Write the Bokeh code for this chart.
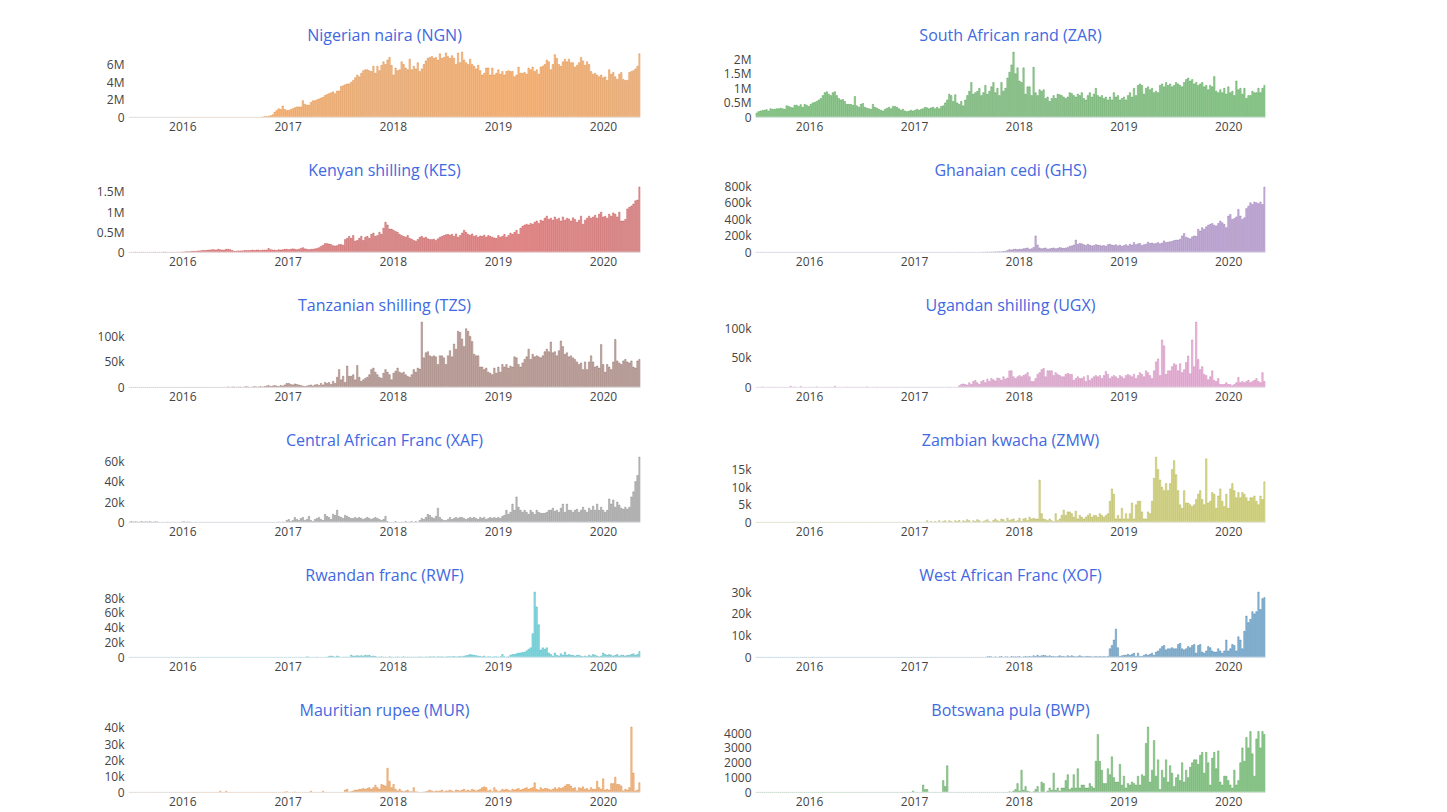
import datetime as dt
from bokeh.plotting import figure
from bokeh.models import Range1d, FixedTicker, Span, DatetimeTickFormatter
from bokeh.layouts import column, row
from bokeh.embed import file_html
from bokeh.resources import INLINE

# ---------------- data (weekly values, first week 2015-06-30) ----------------
# Nigerian naira, millions
ngn = [
    0,0,0,0,0,0,0,0,0,0, 0,0,0,0,0,0,0,0,0,0, 0,0,0,0,0,0,
    0,0,0,0,0,0,0,0,0,0, 0,0,0,0,0,0,0,0,0,0, 0,0,0,0,0,0,0,0,0,0, 0,0,0,0,0,0,0,0,0,0,
    0.05,0.1,0.1,0.15,0.2,0.3,0.6,0.8,1.0,0.9,1.3,0.9,
    0.8,0.8,0.9,1.0,1.1, 1.2,1.2,1.2,1.9,1.5, 1.4,1.4,1.7,1.9,1.9, 2.0,2.1,2.2,2.3,2.5,
    2.6,2.7,2.8,2.9,2.7, 3.0,3.0,3.5,3.6,3.7, 3.8,3.8,4.0,4.2,4.5, 4.8,4.6,5.0,5.3,5.4,
    5.4,5.3,5.2,5.8,5.0, 5.8,5.3,5.9,6.3,6.0, 6.5,6.8,
    5.9,4.8,5.6,5.3,5.4, 6.3,6.0,5.6,5.4,6.6, 5.4,5.8,5.5,6.2,5.2, 5.5,6.0,6.4,6.7,6.8,
    6.9,6.7,6.8,6.5,7.2, 6.7,6.8,7.3,6.9,6.7, 7.0,6.7,6.0,7.3,6.2, 7.4,6.5,6.2,6.0,6.6,
    6.0,5.8,5.5,5.9,5.3, 4.8,5.0,5.6,5.6,4.8, 5.6,4.8,
    5.0,5.4,4.9, 5.2,4.8,5.2,5.3,5.2, 5.2,4.6,4.8,5.7,5.0, 5.0,5.1,4.9,5.6,5.4,
    5.7,5.2,5.4,4.9,5.7, 5.8,6.0,6.5,6.3,5.4, 6.0,7.1,6.7,6.0,5.8, 6.3,6.6,6.3,6.6,6.2,
    6.2,5.7,5.9,6.2,6.8, 6.4,5.9,6.3,6.0,5.2, 4.9,5.0,4.8,4.6,4.8,
    4.5,4.6,4.2,5.4,4.9, 5.1,4.6,4.3,4.9,5.1, 4.3,4.2,4.2,5.1,5.2, 5.3,5.5,5.8,7.2,
]
# South African rand, millions
zar = [
    0.15,0.2,0.22,0.24,0.25, 0.27,0.22,0.3,0.28,0.28, 0.3,0.3,0.32,0.3,0.28, 0.4,0.38,0.35,0.33,0.42,
    0.42,0.38,0.44,0.35,0.45, 0.42,
    0.38,0.45,0.5,0.52,0.55, 0.6,0.65,0.75,0.85,0.88, 0.8,0.75,0.85,0.88,0.75, 0.65,0.6,0.62,0.55,0.45,
    0.45,0.45,0.42,0.72,0.4, 0.35,0.45,0.48,0.35,0.32, 0.3,0.28,0.45,0.35,0.32, 0.28,0.25,0.22,0.28,0.32,
    0.35,0.3,0.38,0.38,0.35, 0.3,0.25,0.28,0.22,0.2,0.22,0.25,
    0.22,0.25,0.28,0.25,0.28, 0.3,0.35,0.33,0.3,0.33, 0.35,0.3,0.35,0.3,0.38, 0.4,0.5,0.6,0.8,0.75,
    0.55,0.78,0.5,0.45,0.55, 0.4,0.6,0.75,0.9,1.2, 0.8,0.85,0.9,1.0,0.75, 0.85,1.1,0.8,0.9,1.05,
    1.2,0.85,1.0,0.75,1.2, 0.9,1.0,1.35,1.55,1.8, 2.24,1.5,
    1.7,1.25,1.2,1.7,0.8, 1.05,1.05,0.75,1.72,0.85, 0.75,0.95,0.9,0.95,0.65, 0.7,0.55,0.65,0.75,0.65,
    0.8,0.78,0.75,0.7,0.65, 0.7,0.85,0.82,0.75,0.7, 0.8,0.75,0.85,0.65,0.6, 0.75,0.85,0.7,0.8,1.0,
    0.75,0.7,0.75,0.65,0.7, 0.6,0.7,0.6,0.85,0.7, 0.75,0.6,
    0.65,0.7,0.6, 0.75,0.85,0.7,1.0,0.75, 1.1,1.15,1.1,0.8,1.0, 1.05,0.95,1.0,0.85,0.9,
    0.85,1.1,1.15,1.05,1.2, 1.1,1.15,1.05,1.1,1.2, 1.15,1.1,1.05,1.2,1.3, 1.35,1.25,1.3,1.15,1.2,
    1.1,1.15,1.2,1.05,1.1, 0.95,1.1,1.05,1.4,0.9, 0.85,0.95,0.85,1.0,0.8,
    1.05,0.85,0.9,0.75,1.25, 0.95,1.0,0.8,1.0,0.65, 0.75,0.75,0.9,0.85,0.85, 1.0,0.85,1.0,1.1,
]
# Kenyan shilling, millions
kes = [
    0,0,0,0.005,0,0,0.005,0,0,0, 0,0,0.005,0,0,0,0,0.01,0.005,0, 0,0.005,0,0,0.005,0,
    0.01,0.01,0.02,0.02,0.02,0.03,0.03,0.03,0.04,0.04, 0.05,0.05,0.05,0.06,0.06,0.07,0.07,0.06,0.08,0.07,
    0.06,0.06,0.08,0.08,0.07,0.05,0.03,0.03,0.04,0.04, 0.04,0.05,0.05,0.05,0.05,0.06,0.05,0.06,0.06,0.05,
    0.06,0.06,0.06,0.1,0.07,0.06,0.06,0.05,0.07,0.06,0.07,0.08,
    0.08,0.07,0.08,0.09,0.08, 0.07,0.08,0.1,0.12,0.09, 0.08,0.07,0.08,0.08,0.09, 0.1,0.12,0.15,0.18,0.22,
    0.22,0.21,0.2,0.17,0.16, 0.17,0.2,0.2,0.18,0.32, 0.35,0.4,0.35,0.42,0.28, 0.3,0.35,0.4,0.3,0.38,
    0.4,0.35,0.45,0.48,0.4, 0.42,0.5,0.45,0.6,0.75, 0.68,0.58,
    0.58,0.55,0.52,0.5,0.45, 0.42,0.4,0.38,0.42,0.35, 0.33,0.3,0.28,0.32,0.38, 0.4,0.36,0.38,0.34,0.32,
    0.32,0.33,0.3,0.34,0.38, 0.4,0.42,0.44,0.45,0.43, 0.45,0.4,0.46,0.38,0.42, 0.48,0.55,0.5,0.45,0.43,
    0.46,0.4,0.42,0.38,0.41, 0.4,0.43,0.38,0.42,0.4, 0.38,0.36,
    0.35,0.42,0.38, 0.4,0.45,0.38,0.42,0.48, 0.45,0.5,0.55,0.45,0.6, 0.65,0.68,0.7,0.68,0.72,
    0.7,0.75,0.78,0.72,0.8, 0.78,0.85,0.9,0.82,0.85, 0.8,0.88,0.82,0.85,0.78, 0.88,0.8,0.85,0.83,0.78,
    0.86,0.82,0.75,0.8,0.9, 0.7,0.8,0.85,0.9,0.85, 0.88,0.92,0.85,0.95,1.0,
    0.88,0.9,0.85,0.95,0.9, 0.98,0.95,0.88,1.0,0.78, 0.78,0.82,1.08,1.12,1.15, 1.2,1.28,1.3,1.62,
]
# Ghanaian cedi, thousands
ghs = [
    0,0,0,0,0,0,0,0,0,0, 0,0,0,0,0,0,0,0,0,0, 0,0,0,0,0,0,
    0,0,0,0,0,0,0,0,0,0, 0,0,0,0,0,0,0,0,0,0, 0,0,0,0,0,0,0,0,0,0, 0,0,0,0,0,0,0,0,0,0,
    0,0,0,0,0,0,0,0,0,0, 0,0,
    0,0,0,0,0,0,0,0,0,0, 0,0,0,0,0,0,0,0,0,0, 0,0,0,0,0,0,0,0,0,0, 0,0,0,0,0,
    2,3,5,4,6,5,8,7,10,8,12,15,25,35,30,38,40,
    35,40,38,45,50, 55,40,45,60,200, 90,55,45,50,55, 40,45,50,55,45, 50,60,55,50,55,
    60,75,80,90,150, 100,110,105,95,85, 100,90,80,85,95, 90,85,80,85,75, 95,100,90,85,95, 80,90,
    75,85,95, 80,100,90,120,95, 105,110,85,95,100, 125,110,115,105,110, 120,105,115,140,120,
    125,130,135,145,150, 150,160,200,230,185, 175,165,190,200,195, 280,260,300,280,310,
    330,340,350,330,320, 350,380,360,340,300,
    440,460,400,410,430, 520,440,400,420,530, 560,600,580,610,600, 590,610,580,790,
]
# Tanzanian shilling, thousands
tzs = [
    0,0,0,0,0,0,0,0,0,0, 0,0,0,0,0,0,0,0,0,0, 0,0,0,0,0,0,
    0,0,0,0,0,0,0,0,0,0, 0,0,0,0,0,0,0,0,0,0, 0,0,0,
    1,0,1,1,0, 1,1,0,1,2, 1,0,1,2,1, 1,2,1,2,3, 4,2,3,4,3, 2,4,3,5,
    8,8,6,5,7, 6,5,4,3,2, 3,4,5,3,5, 6,4,8,5,10, 8,10,6,12,8, 20,35,15,22,10,
    42,22,22,25,15, 43,20,12,15,18, 20,25,35,38,30, 25,20,18,28,35, 30,25,
    15,28,32,38,30, 28,30,25,22,20, 25,35,30,38,36, 128,58,68,70,62, 60,62,60,45,62,
    62,58,45,62,72, 60,85,75,110,108, 95,80,115,110,100, 90,65,62,62,40, 40,35,38,30,28, 25,38,
    28,40,30,45,40, 45,38,42,40,60, 58,45,40,48,55, 60,75,55,65,60, 62,60,58,62,70,
    75,70,89,68,70, 62,72,91,80,65, 68,60,62,58,55, 50,45,48,35,50, 35,50,62,50,40, 42,38,84,
    45,30,45,40,35, 50,94,52,48,45, 52,55,50,48,52, 40,38,52,55,
]
# Ugandan shilling, thousands
ugx = [
    0,0,0,1,0,0,0,0,0,0, 0,0,0,0,0,0,0,2,0,1, 0,0,1.5,0,0,0,
    0,0,0,0,1,0,0,0,0,0, 0,0,0,2,0,0,0,0,0,0.5, 0,0,0,0,0,0,0,0,0,1, 0,0,0,0,0.5,0,0,0,0,0,
    0,0,0,0,0.3,0,0,0,0,0, 0,0,
    0,0,0,0,0,0,0,0,0,0, 0,0,0,0,0,0,0,0,0.5,0, 0,0,0,
    3,5,6,5,4, 8,5,10,12,8, 5,10,12,8,14, 10,15,13,11,16, 15,12,18,14,16, 28,28,18,15,
    18,20,18,20,22, 25,18,10,10,15, 22,25,30,32,18, 28,28,28,20,25, 22,20,18,18,22,
    24,22,22,12,15, 18,15,15,18,10, 20,12,15,18,20, 18,20,15,20,27, 22,15,18,20,18, 15,20,
    18,15,20,22,20, 18,22,15,20,25, 22,18,28,25,20, 15,28,43,48,20, 80,70,22,28,28,
    35,40,38,28,40, 25,30,42,53,23, 80,35,110,47,30, 35,22,20,13,18, 28,12,10,15,5, 5,5,8,
    5,5,3,5,8, 17,8,10,8,10, 12,8,10,12,15, 10,8,25,10,
]
# Central African Franc, thousands
xaf = [
    0.5,1,0.5,0.8,0.5, 0.5,1,0.5,0.8,0.5, 1,0.5,0.5,0.8,0.5, 0,0,0,0,0.3, 0,0,0,0,0, 0,
    0.5,0.8,0.3,0.5,0.3,0,0,0,
    0,0,0,0,0,0,0,0,0,0, 0,0,0,0,0,0,0,0,0,0, 0,0,0,0,0,0,0,0,0,0, 0,0,0,0,0,0,0,0,0,
    0,0.3,0,0.5,0,
    2,3,1,2,5, 3,2,4,5,2, 3,6,2,1,3, 4,5,3,2,8, 6,5,3,8,7, 12,6,5,4,7,
    6,5,4,4,5, 4,5,4,3,4, 5,4,3,4,5, 4,3,2,3,6, 1,0,
    0,0,1,0,0, 0.5,0,1,0,0.5, 1,0,1,0,2, 4,3,5,8,7, 5,4,6,14,5,
    3,2,2,3,5, 3,4,5,4,5, 5,4,3,4,5, 4,5,4,3,5, 4,5,3,4,5, 4,5,
    4,5,4,6,7, 12,8,10,18,12, 25,15,12,10,12, 10,8,12,10,8, 12,10,9,9,9,
    10,12,12,14,11, 12,10,14,18,10, 18,12,12,10,12, 13,10,12,15,12, 10,14,12,16,12, 18,12,15,
    12,10,12,23,18, 22,15,20,17,14, 13,15,13,15,25, 30,40,46,64,
]
# Zambian kwacha, thousands
zmw = [
    0,0,0,0,0,0,0,0,0,0, 0,0,0,0,0,0,0,0,0,0, 0,0,0,0,0,0,
    0,0,0,0,0,0,0,0,0,0, 0,0,0,0,0,0,0,0,0,0, 0,0,0,0,0,0,0,0,0,0, 0,0,0,0,0,0,0,0,0,0,
    0,0,0,0,0,0,0,0,0,0, 0,0,
    0,0,0,0,0,0,0,
    0.5,0,0.3,0,0.3, 0,0.5,0,0.3,0.5, 0,0.5,0.3,0,0.5, 0.3,0.6,0,0.5,0.3, 0.8,0.5,0,0.5,0.3,
    0.8,0.5,0,0.3,0.5, 0.8,0.3,0,0.6,1, 0.5,0.3,1,0.8,0.2, 1.2,0.5,0.8,1,0.3,
    0.5,1.2,0.3,1,1.2, 0.5,1.5,1,1.2,1, 1,12,2.5,1,0.8, 0.5,1,0.5,0.2,2.5, 0.5,1,2,3.5,2,
    3,3,2.5,1.5,3.2, 1,2,1.5,1,1.5, 2,2.5,1.5,2,2, 1.5,2.5,2,1.5,2, 2.5,6,9.5,8,1, 2,1,
    4,1,2.5,1,2.5, 5.5,1,5,6,6, 3,1,1,3,2.5, 6,12.5,18.5,15,12, 10,9,11,9,11,
    15,17.5,13.5,9,5, 4,9,5.5,5.5,5, 4.5,5,6.5,8,9, 6.5,5,18,5.5,6, 8.5,8,4,7.5,9.5, 6,4.5,8,
    4,9.5,11,9,7, 8.5,7,8.5,8,7, 6,7,7,7.5,6, 5,7.5,6.5,11.5,
]
# Rwandan franc, thousands
rwf = [
    0,0,0,0,0,0,0,0,0,0, 0,0,0,0,0,0,0,0,0,0, 0,0,0,0,0,0,
    0,0,0,0,0,0,0,0,0,0, 0,0,0,0,0,0,0,0,0,0, 0,0,0,0,0,0,0,0,0,0, 0,0,0,0,0,0,0,0,0,0,
    0,0,0,0,0,0,0,0,0,0, 0,0,
    0,0,0,0,0,0,0,0,0,0, 1,0.5,0,0,0,0.3,0,0,0,0, 0.5,1.5,2,1.5,0.5,2,1,0,0.3,0.5,
    0.5,0.3,3,2,2,2.5,2,2.5,2,3, 2.5,3,1.5,2,1.5,0.5,0.5,1,0.3,0.5,0,1,
    0.5,0.3,0.5,0.8,0.3,0.5,1,0.3,0.5,0.3, 0.5,0.3,0.3,0.5,0.8,0.5,0.3,0.8,0.5,1,
    0.8,1,0.5,1,0.8,1,0.5,0.8,1,1, 1,1.5,0.8,1,1.5,1,2,2.5,3,4, 3.5,3,2.5,2,1.5,1,2,0.5,1,1,0.5,1,
    1,0.5,1,4,1, 0.5,1,3,4,4, 5,6,6,7,7, 9,11,13,32,88, 68,44,10,13,11,
    13,6,4,2,6, 3,2,5,3,7, 3,4,3,3,2, 3,3,2,1,2, 1,3,2,4,3, 2,1,2,
    6,4,3,4,3, 2,3,4,2,3, 3,2,3,3,4, 5,3,4,8,
]
# West African Franc, thousands
xof = [
    0,0,0,0,0,0,0,0,0,0, 0,0,0,0,0,0,0,0,0,0, 0,0,0,0,0,0,
    0,0,0,0,0,0,0,0,0,0, 0,0,0,0,0,0,0,0,0,0, 0,0,0,0,0,0,0,0,0,0, 0,0,0,0,0,0,0,0,0,0,
    0,0,0,0,0,0,0,0,0,0, 0,0,
    0,0,0,0,0,0,0,0,0,0, 0,0,0,0,0,0,0,0,0,0, 0,0,0,0,0,0,0,0,0,0, 0,0,0,0,0,0,
    0,0.3,0.5,0.3,0,0.3,0,0.3,0.5,0,0.3,0.3,0,0.5,0.3,0.3,
    0.3,0.5,0,0.3,0.5,0.3,0.5,0.3,0.8,0.5, 1,0.5,0.8,1,0.8,0.5,0.8,0.5,0.5,0.3,
    0.5,0.8,0.5,0.5,0.3,0.8,0.5,0.8,0.5,0.3, 0.5,0.8,0.5,0.3,0.5,0.5,0.5,0.3,0.3,0.5,
    0.3,0.5,0.3,0.5,0.3,0.5,4,5.5,8,13,4.5,0.5,
    0.8,1,1,1.5,1, 1.5,2,0.5,2,0.5, 0.5,1,1.5,1,1.5, 2,1,2.5,3,4, 5,5.5,3.5,4,4,
    4.5,4,4,6,6.5, 4,3.5,4,5,4.5, 5.5,6,2,5.5,6, 2.5,2,3,5,4.5, 3,2.5,2.5,4,3, 2,3,8,
    3,4,6,5.5,3, 9.5,8,4,12,19, 16,17.5,21,20,21, 30,22,27,27.5,
]
# Mauritian rupee, thousands
mur = [
    0,0,0,0,0,0,0,0,0,0, 0,0,0,0,0,0,0,0,0,0, 0,0,0,0,0,0,
    0,0,0,0,0,0,0,0,0,0, 0,0,0,0,0,0,0,0,0,0.8, 0,0,0.8,0,0,0,0,0,0,0,
    0,0,0,0,0,0,0,0,0,0, 0,0,0,0,0,0,0,0,0,0, 0,0.3,
    0.5,0,0,0,0.3,0,0,0,0,0, 0,0,0.8,0,0,0,0,0,0.8,0, 0,0,0,0,0,0,0,0,0,1.5,
    2,0.3,0.5,1,1.5,1.5,2,2,2.5,2, 2.5,3,2,3,4.5,3,2,5,4.5,4,15,7,
    3,5,2,1,2,1,0.5,1,1.5,0.5, 0.5,3,0.5,0.3,0,0,0.3,0.5,1,1.5,
    1,0.5,1,0.8,1,1.5,0.5,1,1,1.5, 1,0.5,1.5,1.2,1,1.5,2,1,1.5,1, 2,1.5,1,1.5,2,3,3.5,3,1,1.5,0.5,3,
    1.5,0.5,1,2,1.5, 2,1.5,1,2,1.5, 2,2.5,1.5,2,2.5, 3,2,2.5,3,6, 2,1.5,3,2,2.5,
    2.5,2,1.5,2,3, 2,3,2.5,3,4, 5,5,4,2.5,3, 1,3,2.5,3.5,2, 2.5,1.5,3,2,2, 7,3,2,
    8.5,1.5,2,1.5,5.5, 5.5,9.5,5,5,4, 1,2,1.5,3,40.5, 12,1,1.5,6,
]
# Botswana pula, units
bwp = [
    0,0,0,0,0,0,0,0,0,0, 0,0,0,0,0,0,0,0,0,0, 0,0,0,0,0,0,
    0,0,0,0,0,0,0,0,0,0, 0,0,0,0,0,0,0,0,0,0, 0,0,0,0,0,0,0,0,0,0, 0,0,0,0,0,0,0,0,0,0,
    0,0,0,0,0,0,0,0,0,0, 0,0,
    100,0,0,0,0,500,200,200,0,0, 0,0,0,0,0,800,400,1800,0,0,
    0,0,0,0,0,0,0,0,0,0, 0,0,0,0,0,0,0,0,0,0, 0,0,0,0,0,0,0,0,50,0,100,200,
    600,100,1500,150,400,100,50,0,50,200, 400,0,700,600,0,100,300,150,1300,150,
    300,100,300,300,800,1200,200,300,1200,300, 1600,300,500,500,300,300,600,400,300,2100,
    3900,2100,1500,600,600,1600,1200,2400,1000,700,700,1900,
    500,1100,300,600,500, 700,600,500,1100,500, 1200,1100,3300,4400,700, 1500,3500,1100,2200,200,
    1500,1000,2200,700,1800, 1300,400,1000,1200,800, 2000,700,1500,1000,1700, 2000,2200,2200,1900,2500,
    2700,1300,2700,2000,500, 2300,2700,1600,2800,700, 500,1100,1100,
    800,500,300,1500,500, 800,2000,3000,2100,3700, 3000,4100,2600,1100,3600, 4100,3000,4100,3900,
]

titles = ["Nigerian naira (NGN)", "South African rand (ZAR)", "Kenyan shilling (KES)",
          "Ghanaian cedi (GHS)", "Tanzanian shilling (TZS)", "Ugandan shilling (UGX)",
          "Central African Franc (XAF)", "Zambian kwacha (ZMW)", "Rwandan franc (RWF)",
          "West African Franc (XOF)", "Mauritian rupee (MUR)", "Botswana pula (BWP)"]

ngn_ticks, ngn_labels = [0, 2, 4, 6], ["0", "2M", "4M", "6M"]
zar_ticks, zar_labels = [0, 0.5, 1, 1.5, 2], ["0", "0.5M", "1M", "1.5M", "2M"]
kes_ticks, kes_labels = [0, 0.5, 1, 1.5], ["0", "0.5M", "1M", "1.5M"]
ghs_ticks, ghs_labels = [0, 200, 400, 600, 800], ["0", "200k", "400k", "600k", "800k"]
tzs_ticks, tzs_labels = [0, 50, 100], ["0", "50k", "100k"]
ugx_ticks, ugx_labels = [0, 50, 100], ["0", "50k", "100k"]
xaf_ticks, xaf_labels = [0, 20, 40, 60], ["0", "20k", "40k", "60k"]
zmw_ticks, zmw_labels = [0, 5, 10, 15], ["0", "5k", "10k", "15k"]
rwf_ticks, rwf_labels = [0, 20, 40, 60, 80], ["0", "20k", "40k", "60k", "80k"]
xof_ticks, xof_labels = [0, 10, 20, 30], ["0", "10k", "20k", "30k"]
mur_ticks, mur_labels = [0, 10, 20, 30, 40], ["0", "10k", "20k", "30k", "40k"]
bwp_ticks, bwp_labels = [0, 1000, 2000, 3000, 4000], ["0", "1000", "2000", "3000", "4000"]

year_labels = [2016, 2017, 2018, 2019, 2020]

colors = ["#ff7f0e", "#2ca02c", "#d62728", "#9467bd", "#8c564b", "#e377c2",
          "#7f7f7f", "#bcbd22", "#17becf", "#1f77b4", "#ff7f0e", "#2ca02c"]

series = [ngn, zar, kes, ghs, tzs, ugx, xaf, zmw, rwf, xof, mur, bwp]
ticks = [ngn_ticks, zar_ticks, kes_ticks, ghs_ticks, tzs_ticks, ugx_ticks,
         xaf_ticks, zmw_ticks, rwf_ticks, xof_ticks, mur_ticks, bwp_ticks]
labels = [ngn_labels, zar_labels, kes_labels, ghs_labels, tzs_labels, ugx_labels,
          xaf_labels, zmw_labels, rwf_labels, xof_labels, mur_labels, bwp_labels]

# ---------------- layout helpers ----------------
EPOCH = dt.datetime(1970, 1, 1)
DAY = 86400000.0
START = dt.datetime(2015, 6, 30)
N_WEEKS = 254


def ms(d):
    return (d - EPOCH).total_seconds() * 1000.0


def darker(hex_color, f):
    h = hex_color.lstrip("#")
    r, g, b = (int(h[i:i + 2], 16) for i in (0, 2, 4))
    return "#%02x%02x%02x" % (int(r * f), int(g * f), int(b * f))


x_lo = ms(START) - 3.5 * DAY
x_hi = ms(START) + (N_WEEKS - 1) * 7 * DAY + 3.5 * DAY
year_ticks = [ms(dt.datetime(y, 1, 1)) for y in year_labels]

TITLE_COLOR = "#4169e1"
TICK_COLOR = "#444444"
FONT = "Open Sans"


def make_fig(idx):
    vals = series[idx]
    c = idx % 2
    r = idx // 2
    bl, fw, br = (128, 512, 32) if c == 0 else (83, 510, 20)
    bt = 48 if r == 0 else 40
    bb = 20 if r == 5 else 26
    fh = 69
    ymax = max(vals) * 1.055
    p = figure(width=bl + fw + br, height=bt + fh + bb, x_axis_type="datetime",
               output_backend="svg", toolbar_location=None,
               x_range=Range1d(x_lo, x_hi), y_range=Range1d(0, ymax),
               min_border_left=bl, min_border_right=br,
               min_border_top=bt, min_border_bottom=bb)
    p.title.text = titles[idx]
    p.title.align = "center"
    p.title.text_font = FONT
    p.title.text_font_size = "16px"
    p.title.text_font_style = "normal"
    p.title.text_color = TITLE_COLOR
    p.title.standoff = 5
    p.outline_line_color = None
    p.background_fill_color = "white"
    p.border_fill_color = "white"
    p.xgrid.grid_line_color = None
    p.ygrid.grid_line_color = None

    xs = [ms(START) + 7 * DAY * i for i in range(len(vals))]
    p.add_layout(Span(location=0, dimension="width", line_color="#e6eaf0", line_width=1.5))
    p.vbar(x=xs, top=vals, width=4.8 * DAY, fill_color=colors[idx], fill_alpha=0.42,
           line_color=darker(colors[idx], 0.8), line_alpha=0.75, line_width=0.5)

    p.xaxis.ticker = FixedTicker(ticks=year_ticks)
    p.xaxis.formatter = DatetimeTickFormatter(years="%Y", months="%Y", days="%Y",
                                              hours="%Y", hourmin="%Y")
    p.yaxis.ticker = FixedTicker(ticks=ticks[idx])
    p.yaxis.major_label_overrides = {t: l for t, l in zip(ticks[idx], labels[idx])}
    for ax in (p.xaxis, p.yaxis):
        ax.axis_line_color = None
        ax.major_tick_line_color = None
        ax.minor_tick_line_color = None
        ax.major_tick_out = 0
        ax.major_tick_in = 0
        ax.minor_tick_out = 0
        ax.minor_tick_in = 0
        ax.major_label_text_font = FONT
        ax.major_label_text_font_size = "12px"
        ax.major_label_text_color = TICK_COLOR
    p.xaxis.major_label_standoff = 4
    p.yaxis.major_label_standoff = 4
    return p


figs = [make_fig(i) for i in range(12)]
layout = column(*[row(figs[2 * k], figs[2 * k + 1]) for k in range(6)])

open("out.html", "w").write(file_html(layout, INLINE))
